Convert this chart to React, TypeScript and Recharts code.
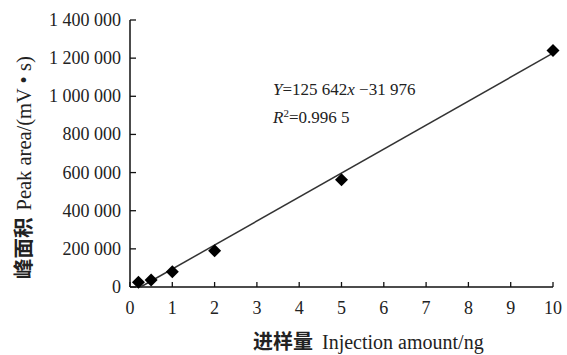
import React from 'react';
import { ScatterChart, Scatter, XAxis, YAxis, Label } from 'recharts';

// calibration points
const injection = [0.2, 0.5, 1, 2, 5, 10];
const peakArea = [25000, 37000, 80000, 190000, 562000, 1240000];
// ends of the drawn regression line
const fitX = [0.25, 10];
const fitY = [0, 1226000];
const xTicks = [0, 1, 2, 3, 4, 5, 6, 7, 8, 9, 10];
const yTicks = [0, 200000, 400000, 600000, 800000, 1000000, 1200000, 1400000];

const points = injection.map((x, i) => ({ x, y: peakArea[i] }));
const fit = fitX.map((x, i) => ({ x, y: fitY[i] }));

const serif = '"Liberation Serif", "Times New Roman", serif';
const cjk = '"Noto Sans CJK SC", sans-serif';

const fmt = (v: number) => String(v).replace(/\B(?=(\d{3})+(?!\d))/g, ' ');

const XTick = ({ x, y, payload }: any) => <g>
    <line x1={x} x2={x} y1={y} y2={y - 5} stroke="#111" strokeWidth={1.3} />
    <text x={x} y={y + 27} textAnchor="middle" fontFamily={serif} fontSize={18} fill="#222">{payload.value}</text>
  </g>;

const YTick = ({ x, y, payload }: any) => <g>
    <line x1={x} x2={x + 6} y1={y} y2={y} stroke="#111" strokeWidth={1.3} />
    <text x={x - 9} y={y + 6} textAnchor="end" fontFamily={serif} fontSize={18} fill="#222">{fmt(payload.value)}</text>
  </g>;

const Diamond = ({ cx, cy }: any) => <polygon points={`${cx},${cy - 6.5} ${cx + 6.5},${cy} ${cx},${cy + 6.5} ${cx - 6.5},${cy}`} fill="#000" />;

const YTitle = () => <text transform="translate(31, 279) rotate(-90)" fontSize={20.5} fill="#222">
    <tspan fontFamily={cjk} fontWeight={700}>峰面积</tspan>
    <tspan fontFamily={serif} dx={7}>Peak area/(mV • s)</tspan>
  </text>;

const XTitle = () => <text x={253} y={349} fontSize={20} fill="#222">
    <tspan fontFamily={cjk} fontWeight={700}>进样量</tspan>
    <tspan fontFamily={serif} dx={9}>Injection amount/ng</tspan>
  </text>;

export default function App() {
  return <div style={{
    position: 'absolute',
    left: 0,
    top: 0,
    width: 567,
    height: 355,
    background: '#fff'
  }}>
      <ScatterChart width={567} height={355} margin={{ top: 20, right: 14, bottom: 38, left: 0 }}>
        <XAxis type="number" dataKey="x" domain={[0, 10]} ticks={xTicks} height={30} tickSize={0} tickMargin={0} tickLine={false} axisLine={{ stroke: '#111', strokeWidth: 1.5 }} tick={<XTick />} interval={0}>
          <Label content={<XTitle />} />
        </XAxis>
        <YAxis type="number" dataKey="y" domain={[0, 1400000]} ticks={yTicks} width={130} tickSize={0} tickMargin={0} tickLine={false} axisLine={{ stroke: '#111', strokeWidth: 1.5 }} tick={<YTick />} interval={0}>
          <Label content={<YTitle />} />
        </YAxis>
        <Scatter data={fit} line={{ stroke: '#333', strokeWidth: 1.5 }} shape={() => <g />} isAnimationActive={false} />
        <Scatter data={points} shape={<Diamond />} isAnimationActive={false} />
      </ScatterChart>
      <div style={{
      position: 'absolute',
      left: 273,
      top: 76,
      fontFamily: serif,
      fontSize: 17,
      lineHeight: '28px',
      color: '#222',
      whiteSpace: 'nowrap'
    }}>
        <div><i>Y</i>=125 642<i>x</i> −31 976</div>
        <div><i>R</i><span style={{ fontSize: 11, position: 'relative', top: -6 }}>2</span>=0.996 5</div>
      </div>
    </div>;
}
